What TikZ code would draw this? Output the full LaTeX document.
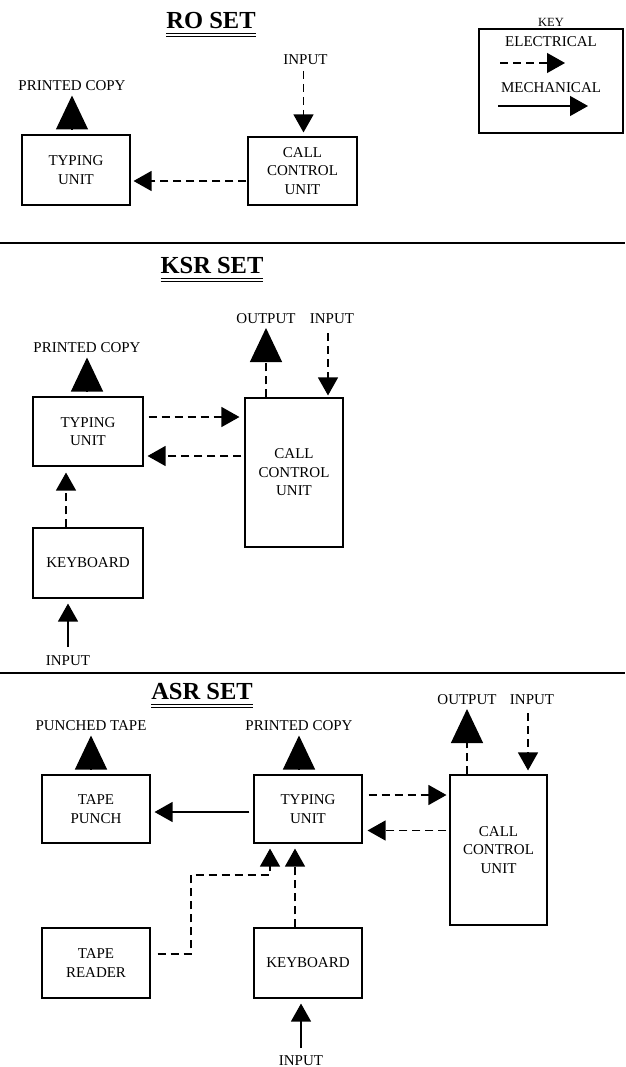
\documentclass[tikz,border=0pt]{standalone}
\usepackage{fontspec}
\setmainfont{Liberation Serif}
\usetikzlibrary{arrows.meta,calc}
\newcommand\lblfont{\fontsize{15}{18.5}\selectfont}
\newcommand\ttlfont{\fontsize{24.5}{28}\selectfont\bfseries}
\newcommand\keyfont{\fontsize{12.5}{14}\selectfont}
\begin{document}
\begin{tikzpicture}[x=1pt,y=-1pt,
  box/.style={draw, line width=1.1pt, inner sep=0pt, align=center, font=\lblfont},
  lab/.style={inner sep=0pt, outer sep=0pt, font=\lblfont},
  ttl/.style={inner sep=0pt, outer sep=0pt, font=\ttlfont},
  uline/.style={line width=0.8pt},
  sepline/.style={line width=1.3pt},
  elec/.style={line width=1.2pt, dash pattern=on 8pt off 5pt, -{Triangle[width=20pt,length=18pt]}},
  mech/.style={line width=1.2pt, -{Triangle[width=20pt,length=18pt]}},
  big/.style={line width=1.2pt, -{Triangle[width=32pt,length=34pt]}},
  bigdash/.style={big, dash pattern=on 8pt off 5pt},
]
\useasboundingbox (0,0) rectangle (625,1067);

% ===== RO SET =====
\node[ttl, anchor=base] (ro_t) at (211,28.5) {RO SET};
\draw[uline] ($(ro_t.base west)+(0,5)$) -- ($(ro_t.base east)+(0,5)$);
\draw[uline] ($(ro_t.base west)+(0,8)$) -- ($(ro_t.base east)+(0,8)$);

% key
\node[inner sep=0pt, font=\keyfont, anchor=base] (key_t) at (551,26.5) {KEY};
\node[draw, line width=1.1pt, minimum width=144pt, minimum height=104pt, inner sep=0pt] (key) at (551,81) {};
\node[lab, anchor=base] (key_e) at (551,46.5) {ELECTRICAL};
\node[lab, anchor=base] (key_m) at (551,93) {MECHANICAL};
\coordinate (ke1) at (500,63);
\coordinate (ke2) at (565,63);
\coordinate (km1) at (498,106);
\coordinate (km2) at (588,106);
\draw[elec] (ke1) -- (ke2);
\draw[mech] (km1) -- (km2);

\node[box, minimum width=108pt, minimum height=70pt] (ro_tu) at (76,170) {TYPING\\UNIT};
\node[box, minimum width=109pt, minimum height=68pt] (ro_cc) at (302.5,171) {CALL\\CONTROL\\UNIT};
\node[lab, anchor=base] (ro_pc) at (72,90.5) {PRINTED COPY};
\node[lab, anchor=base] (ro_in) at (305.5,65) {INPUT};
\coordinate (ro_inp) at ([xshift=-2pt]ro_in.base);
\draw[big, shorten <=5pt, shorten >=5pt] (ro_tu.north -| ro_pc.base) -- (ro_pc.base);
\draw[elec, shorten <=6pt, shorten >=4pt] (ro_inp) -- (ro_cc.north -| ro_inp);
\coordinate (ro_a1) at ([yshift=-10pt]ro_cc.west);
\draw[elec, shorten <=1pt, shorten >=3pt] (ro_a1) -- (ro_a1 -| ro_tu.east);

\draw[sepline] (0,243) -- (625,243);

% ===== KSR SET =====
\node[ttl, anchor=base] (k_t) at (212,273) {KSR SET};
\draw[uline] ($(k_t.base west)+(0,5.5)$) -- ($(k_t.base east)+(0,5.5)$);
\draw[uline] ($(k_t.base west)+(0,8.5)$) -- ($(k_t.base east)+(0,8.5)$);

\node[box, minimum width=110pt, minimum height=69pt] (k_tu) at (88,431.5) {TYPING\\UNIT};
\node[box, minimum width=98pt, minimum height=149pt] (k_cc) at (294,472.5) {CALL\\CONTROL\\UNIT};
\node[box, minimum width=110pt, minimum height=70pt] (k_kb) at (88,563) {KEYBOARD};

\node[lab, anchor=base] (k_pc) at (87,352.5) {PRINTED COPY};
\node[lab, anchor=base] (k_out) at (266,323) {OUTPUT};
\node[lab, anchor=base] (k_in) at (332,323) {INPUT};
\node[lab, anchor=base] (k_bin) at (68,665) {INPUT};
\coordinate (k_inp) at ([xshift=-4pt]k_in.base);

\draw[big, shorten <=5pt, shorten >=5pt] (k_tu.north -| k_pc.base) -- (k_pc.base);
\draw[bigdash, shorten >=5pt] (k_cc.north -| k_out.base) -- (k_out.base);
\draw[elec, shorten <=10pt, shorten >=2pt] (k_inp) -- (k_cc.north -| k_inp);
\coordinate (k_a1) at ([yshift=14.5pt]k_tu.east);
\draw[elec, shorten <=5pt, shorten >=5pt] (k_a1) -- (k_a1 -| k_cc.west);
\coordinate (k_a2) at ([yshift=-24.5pt]k_tu.east -| k_cc.west);
\draw[elec, shorten <=3pt, shorten >=4pt] (k_a2) -- (k_a2 -| k_tu.east);
\draw[elec, shorten >=6pt] ([xshift=-22pt]k_kb.north) -- ([xshift=-22pt]k_tu.south);
\draw[mech, shorten <=8pt, shorten >=5pt] (k_bin.north) -- (k_kb.south -| k_bin.north);

\draw[sepline] (0,673) -- (625,673);

% ===== ASR SET =====
\node[ttl, anchor=base] (a_t) at (202,699) {ASR SET};
\draw[uline] ($(a_t.base west)+(0,5.5)$) -- ($(a_t.base east)+(0,5.5)$);
\draw[uline] ($(a_t.base west)+(0,8.5)$) -- ($(a_t.base east)+(0,8.5)$);

\node[box, minimum width=108pt, minimum height=68pt] (a_tp) at (96,809) {TAPE\\PUNCH};
\node[box, minimum width=108pt, minimum height=68pt] (a_tu) at (308,809) {TYPING\\UNIT};
\node[box, minimum width=97pt, minimum height=150pt] (a_cc) at (498.5,850) {CALL\\CONTROL\\UNIT};
\node[box, minimum width=108pt, minimum height=70pt] (a_tr) at (96,963) {TAPE\\READER};
\node[box, minimum width=108pt, minimum height=70pt] (a_kb) at (308,963) {KEYBOARD};

\node[lab, anchor=base] (a_pt) at (91,730.5) {PUNCHED TAPE};
\node[lab, anchor=base] (a_pc) at (299,730.5) {PRINTED COPY};
\node[lab, anchor=base] (a_out) at (467,704) {OUTPUT};
\node[lab, anchor=base] (a_in) at (532,704) {INPUT};
\node[lab, anchor=base] (a_bin) at (301,1065) {INPUT};
\coordinate (a_inp) at ([xshift=-4pt]a_in.base);

\draw[big, shorten <=5pt, shorten >=5pt] (a_tp.north -| a_pt.base) -- (a_pt.base);
\draw[big, shorten <=5pt, shorten >=5pt] (a_tu.north -| a_pc.base) -- (a_pc.base);
\draw[bigdash, shorten >=5pt] (a_cc.north -| a_out.base) -- (a_out.base);
\draw[elec, shorten <=9pt, shorten >=4pt] (a_inp) -- (a_cc.north -| a_inp);

\coordinate (a_m1) at ([yshift=-3pt]a_tu.west);
\draw[mech, shorten <=4pt, shorten >=4pt] (a_m1) -- (a_m1 -| a_tp.east);
\coordinate (a_a1) at ([yshift=14pt]a_tu.east);
\draw[elec, shorten <=6pt, shorten >=3pt] (a_a1) -- (a_a1 -| a_cc.west);
\coordinate (a_a2) at ([yshift=-21.5pt]a_tu.east -| a_cc.west);
\draw[elec, shorten <=3pt, shorten >=5pt] (a_a2) -- (a_a2 -| a_tu.east);

\draw[elec, shorten >=5pt] ([xshift=-13pt]a_kb.north) -- ([xshift=-13pt]a_tu.south);
\coordinate (a_bend) at (191,875);
\draw[elec, shorten <=7pt, shorten >=5pt] ([yshift=9pt]a_tr.east) -| (a_bend) -| ([xshift=-38pt]a_tu.south);
\draw[mech, shorten <=7pt, shorten >=5pt] (a_bin.north) -- (a_kb.south -| a_bin.north);

\end{tikzpicture}
\end{document}
